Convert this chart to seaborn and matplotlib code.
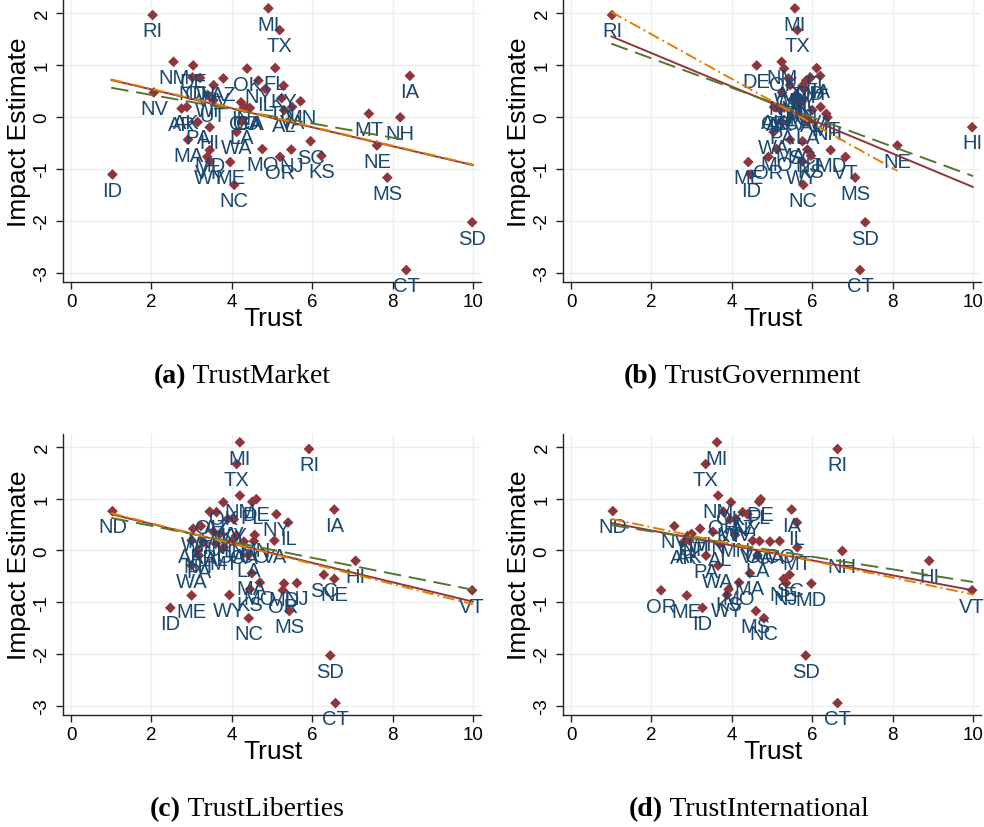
import matplotlib
matplotlib.use("Agg")
import matplotlib.pyplot as plt
import numpy as np
import pandas as pd
import seaborn as sns

# ---- data -------------------------------------------------------------
states = ["AK", "AL", "AR", "AZ", "CA", "CO", "CT", "DE", "FL", "GA",
          "HI", "IA", "ID", "IL", "IN", "KS", "KY", "LA", "MA", "MD",
          "ME", "MI", "MN", "MO", "MS", "MT", "NC", "ND", "NE", "NH",
          "NJ", "NM", "NV", "NY", "OH", "OK", "OR", "PA", "RI", "SC",
          "SD", "TN", "TX", "UT", "VA", "VT", "WA", "WI", "WV", "WY"]

impact = [0.19, 0.13, 0.16, 0.74, 0.17, 0.18, -2.95, 0.99, 0.94, 0.18,
          -0.20, 0.79, -1.11, 0.54, 0.28, -0.75, 0.60, -0.09, -0.44, -0.64,
          -0.87, 2.09, 0.30, -0.62, -1.17, 0.06, -1.31, 0.76, -0.55, -0.01,
          -0.63, 1.06, 0.47, 0.70, 0.75, 0.93, -0.77, -0.10, 1.96, -0.47,
          -2.03, 0.36, 1.67, 0.32, 0.19, -0.77, -0.29, 0.42, 0.61, -0.86]

trust_market = [2.88, 5.30, 2.75, 3.79, 4.45, 4.30, 8.34, 3.04, 5.08, 4.38,
                3.45, 8.43, 1.03, 4.84, 4.23, 6.23, 5.29, 4.25, 2.91, 3.45,
                3.96, 4.91, 5.71, 4.76, 7.87, 7.41, 4.06, 3.02, 7.61, 8.19,
                5.48, 2.55, 2.06, 4.66, 3.21, 4.38, 5.20, 3.15, 2.03, 5.96,
                9.98, 5.24, 5.19, 3.54, 5.50, 3.39, 4.12, 3.40, 3.55, 3.45]

trust_government = [5.05, 6.00, 5.20, 5.41, 5.65, 5.10, 7.19, 4.62, 6.11, 5.30,
                    9.98, 6.20, 4.47, 5.80, 5.55, 5.97, 5.76, 5.88, 5.45, 6.46,
                    4.41, 5.57, 5.75, 5.12, 7.07, 6.35, 5.78, 5.95, 8.12, 6.38,
                    5.88, 5.24, 5.25, 5.85, 5.95, 5.30, 4.91, 5.24, 1.02, 5.76,
                    7.32, 5.70, 5.63, 5.50, 6.21, 6.83, 5.04, 5.60, 5.45, 5.76]

trust_liberties = [3.00, 3.60, 3.30, 3.62, 4.30, 4.55, 6.58, 4.61, 4.51, 4.00,
                   7.08, 6.55, 2.47, 5.40, 4.10, 4.45, 4.05, 4.41, 4.50, 5.30,
                   3.00, 4.20, 4.57, 4.70, 5.43, 3.80, 4.42, 1.03, 6.55, 3.15,
                   5.62, 4.20, 3.23, 5.11, 3.45, 3.79, 5.27, 3.18, 5.92, 6.29,
                   6.45, 3.54, 4.12, 3.70, 5.06, 9.98, 3.00, 3.04, 3.90, 3.94]

trust_international = [2.94, 3.70, 2.80, 4.27, 4.95, 5.19, 6.63, 4.72, 4.68, 4.69,
                       8.91, 5.49, 3.27, 5.62, 2.90, 3.92, 3.95, 4.64, 4.45, 5.98,
                       2.88, 3.63, 4.08, 4.18, 4.60, 5.63, 4.80, 1.04, 5.29, 6.75,
                       5.35, 3.66, 2.57, 4.39, 3.79, 3.98, 2.24, 3.36, 6.63, 5.44,
                       5.84, 3.53, 3.35, 3.00, 4.52, 9.98, 3.66, 3.21, 4.10, 3.88]

# fitted lines per panel: (x start, y start, x end, y end)
fit_solid = [(1.0, 0.71, 10.0, -0.93), (1.0, 1.55, 10.0, -1.35),
             (1.0, 0.70, 10.0, -0.99), (1.0, 0.53, 10.0, -0.77)]
fit_dash = [(1.0, 0.56, 8.43, -0.46), (1.0, 1.41, 10.0, -1.14),
            (1.0, 0.63, 10.0, -0.76), (1.0, 0.49, 10.0, -0.61)]
fit_dashdot = [(1.0, 0.72, 10.0, -0.92), (1.0, 2.02, 8.12, -1.04),
               (1.0, 0.72, 10.0, -1.04), (1.0, 0.61, 10.0, -0.85)]

panel_vars = ["TrustMarket", "TrustGovernment", "TrustLiberties", "TrustInternational"]
panel_tags = ["(a)", "(b)", "(c)", "(d)"]

x_ticks = [0, 2, 4, 6, 8, 10]
y_ticks = [-3, -2, -1, 0, 1, 2]

df = pd.DataFrame({
    "state": states,
    "impact": impact,
    "TrustMarket": trust_market,
    "TrustGovernment": trust_government,
    "TrustLiberties": trust_liberties,
    "TrustInternational": trust_international,
})

# ---- style ------------------------------------------------------------
sns.set_theme(style="white")
plt.rcParams["font.family"] = ["Liberation Sans", "DejaVu Sans"]

MAROON = "#90353b"
NAVY = "#1a476f"
GREEN = "#55752f"
ORANGE = "#e37e00"
GRID = "#e8f0f2"

W, H = 984, 828
fig = plt.figure(figsize=(W / 100, H / 100), dpi=100)
fig.patch.set_facecolor("white")

# axes rectangles in pixels: left, top, right, bottom
rects_px = [(63, 1, 481, 283), (563, 1, 981, 283),
            (63, 435, 481, 716), (563, 435, 981, 716)]
caption_pos = [(242, 377), (742, 377), (247, 810), (749, 810)]


def px_rect(l, t, r, b):
    return [l / W, 1 - b / H, (r - l) / W, (b - t) / H]


renderer = fig.canvas.get_renderer()

for i, var in enumerate(panel_vars):
    ax = fig.add_axes(px_rect(*rects_px[i]))
    ax.set_facecolor("white")

    sns.scatterplot(data=df, x=var, y="impact", marker="D", s=30,
                    color=MAROON, edgecolor="none", linewidth=0,
                    legend=False, ax=ax, zorder=3)

    for st, xv, yv in zip(df["state"], df[var], df["impact"]):
        ax.annotate(st, (xv, yv), xytext=(0, -4.5), textcoords="offset points",
                    ha="center", va="top", fontsize=14.5, color=NAVY,
                    zorder=4, annotation_clip=False)

    x0, y0, x1, y1 = fit_solid[i]
    ax.plot([x0, x1], [y0, y1], color=MAROON, lw=1.4, zorder=5)
    x0, y0, x1, y1 = fit_dash[i]
    ax.plot([x0, x1], [y0, y1], color=GREEN, lw=1.4, zorder=5,
            dashes=(9, 4))
    x0, y0, x1, y1 = fit_dashdot[i]
    ax.plot([x0, x1], [y0, y1], color=ORANGE, lw=1.4, zorder=6,
            dashes=(6, 2, 1, 2))

    ax.set_xlim(-0.2, 10.2)
    ax.set_ylim(-3.18, 2.25)
    ax.set_xticks(x_ticks)
    ax.set_yticks(y_ticks)
    ax.set_xticklabels([str(v) for v in x_ticks])
    ax.set_yticklabels([str(v) for v in y_ticks], rotation=90, va="center")
    ax.grid(True, color=GRID, lw=1.0)
    ax.set_axisbelow(True)
    for side in ("top", "right"):
        ax.spines[side].set_visible(False)
    for side in ("left", "bottom"):
        ax.spines[side].set_color("#222222")
        ax.spines[side].set_linewidth(1.0)
    ax.tick_params(axis="both", direction="out", length=5, width=1,
                   color="#222222", labelsize=13.5, labelcolor="black",
                   bottom=True, left=True, pad=3)
    ax.tick_params(axis="y", pad=4)

    ax.set_xlabel("Trust", fontsize=19, color="black")
    ax.set_ylabel("Impact Estimate", fontsize=19, color="black")
    ax.xaxis.set_label_coords(0.502, -0.085)
    ax.yaxis.set_label_coords(-0.077, 0.535)

    # caption below each panel: bold tag followed by variable name
    cx, cy = caption_pos[i]
    t1 = fig.text(0, 1 - cy / H, panel_tags[i], fontsize=20,
                  family=["Liberation Serif", "DejaVu Serif"],
                  fontweight="bold", va="center", ha="left", color="black")
    t2 = fig.text(0, 1 - cy / H, " " + var, fontsize=20,
                  family=["Liberation Serif", "DejaVu Serif"],
                  va="center", ha="left", color="black")
    w1 = t1.get_window_extent(renderer).width
    w2 = t2.get_window_extent(renderer).width
    left = cx - (w1 + w2) / 2
    t1.set_x(left / W)
    t2.set_x((left + w1) / W)

fig.savefig("out.png", dpi=100, facecolor="white")
